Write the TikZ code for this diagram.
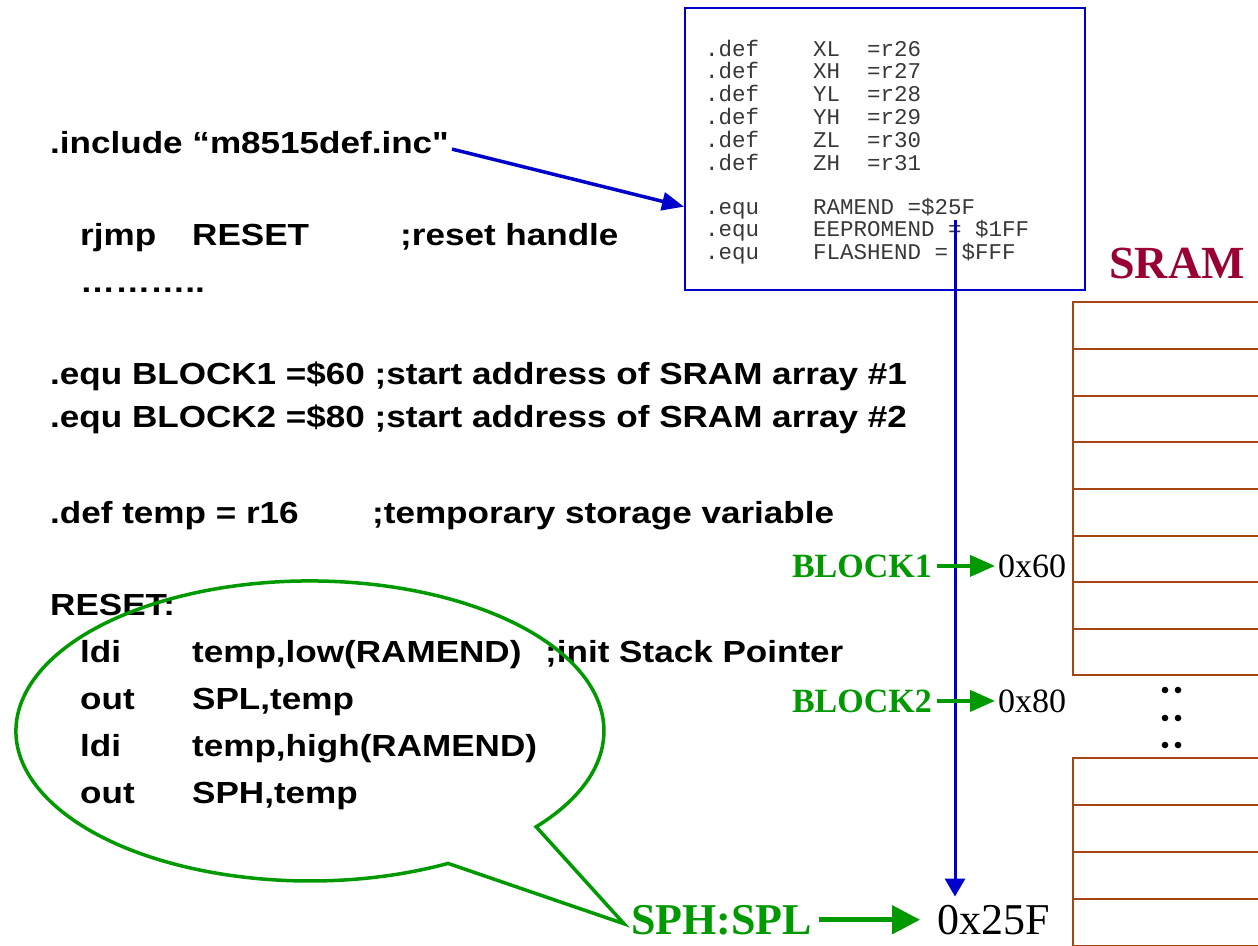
\documentclass[tikz,border=0pt]{standalone}
\usepackage{fontspec}
\usetikzlibrary{arrows.meta,calc}
\setmainfont{Liberation Serif}
\newfontfamily\arialb{Liberation Sans}[FakeStretch=1.15]
\newfontfamily\monof{Liberation Mono}
\definecolor{mygreen}{RGB}{0,153,0}
\definecolor{myblue}{RGB}{0,0,204}
\definecolor{mybrown}{RGB}{166,68,20}
\definecolor{sramred}{RGB}{153,0,51}
\begin{document}
\begin{tikzpicture}[x=1pt,y=-1pt,
  code/.style={anchor=base west,inner sep=0pt,font=\arialb\bfseries\fontsize{30.5}{36}\selectfont},
  inctext/.style={anchor=base west,inner sep=0pt,text=black!78,font=\monof\fontsize{22.5}{27}\selectfont},
  glabel/.style={inner sep=0pt,text=mygreen,font=\bfseries\fontsize{34}{40}\selectfont},
  addr/.style={inner sep=0pt,font=\fontsize{34}{40}\selectfont},
  biglabel/.style={inner sep=0pt,text=mygreen,font=\bfseries\fontsize{44}{50}\selectfont},
  bigaddr/.style={inner sep=0pt,font=\fontsize{44}{50}\selectfont},
  garrow/.style={draw=mygreen,line width=4pt,-{Triangle[length=25pt,width=21pt]}},
  gbigarrow/.style={draw=mygreen,line width=5pt,-{Triangle[length=28pt,width=28pt]}},
  barrow/.style={draw=myblue,line width=3.5pt,-{Triangle[length=22pt,width=18pt]}},
  vline/.style={draw=myblue,line width=3pt,-{Triangle[length=18pt,width=20pt]}},
  cell/.style={draw=mybrown,line width=2.5pt},
  callout/.style={draw=mygreen,line width=3.5pt,line join=miter}
]
\fill[white] (0,0) rectangle (1258,945);
\useasboundingbox (0,0) rectangle (1258,945);

% left code
\node[code] (inc) at (50,153) {.include “m8515def.inc"};
\node[code] (rja) at (80,245) {rjmp};
\node[code] (rjb) at (192,245) {RESET};
\node[code] (rjc) at (400,245) {;reset handle};
\node[code] (dots) at (80,292) {………..};
\node[code] (eqa) at (50,384) {.equ BLOCK1 =\$60 ;start address of SRAM array \#1};
\node[code] (eqb) at (50,427) {.equ BLOCK2 =\$80 ;start address of SRAM array \#2};
\node[code] (dfa) at (50,523) {.def temp = r16};
\node[code] (dfb) at (372,523) {;temporary storage variable};
\node[code] (rst) at (50,615) {RESET:};
\node[code] (l1a) at (80,662) {ldi};
\node[code] (l1b) at (192,662) {temp,low(RAMEND)};
\node[code] (l1c) at (545,662) {;init Stack Pointer};
\node[code] (l2a) at (80,709) {out};
\node[code] (l2b) at (192,709) {SPL,temp};
\node[code] (l3a) at (80,756) {ldi};
\node[code] (l3b) at (192,756) {temp,high(RAMEND)};
\node[code] (l4a) at (80,803) {out};
\node[code] (l4b) at (192,803) {SPH,temp};

% include-file box
\node[draw=myblue,line width=2pt,minimum width=400pt,minimum height=282pt,inner sep=0pt] (box) at (885,149) {};
\foreach \n/\r [count=\i from 0] in {XL/26,XH/27,YL/28,YH/29,ZL/30,ZH/31} {
  \node[inctext] (dk\i) at (705,{56+22.8*\i}) {.def};
  \node[inctext] (dn\i) at (813,{56+22.8*\i}) {\n};
  \node[inctext] (dv\i) at (867,{56+22.8*\i}) {=r\r};
}
\node[inctext] (eka) at (705,214) {.equ};
\node[inctext] (eva) at (813,214) {RAMEND =\$25F};
\node[inctext] (ekb) at (705,236.8) {.equ};
\node[inctext] (evb) at (813,236.8) {EEPROMEND = \$1FF};
\node[inctext] (ekc) at (705,259.6) {.equ};
\node[inctext] (evc) at (813,259.6) {FLASHEND = \$FFF};

% SRAM
\node[inner sep=0pt,anchor=base,text=sramred,font=\bfseries\fontsize{46}{52}\selectfont] (sram) at (1177,278) {SRAM};
\draw[cell] (1073,302) rectangle (1272,675);
\foreach \y in {349,396,442,489,536,582,629} \draw[cell] (1073,\y) -- (1272,\y);
\draw[cell] (1073,758) rectangle (1272,946);
\foreach \y in {805,852,899} \draw[cell] (1073,\y) -- (1272,\y);
\foreach \y in {690,718,745} {
  \fill (1165,\y) circle[radius=3.3];
  \fill (1178,\y) circle[radius=3.3];
}

% labels and addresses
\node[glabel,anchor=base east] (bka) at (932,577) {BLOCK1};
\node[addr,anchor=base west] (ada) at (998,577) {0x60};
\node[glabel,anchor=base east] (bkb) at (932,712) {BLOCK2};
\node[addr,anchor=base west] (adb) at (998,712) {0x80};
\node[biglabel,anchor=base west] (sph) at (631,934) {SPH:SPL};
\node[bigaddr,anchor=base west] (top) at (937,934) {0x25F};

% connectors
\draw[barrow] ($(inc.east)+(3,7)$) -- (box.west |- eva);
\coordinate (vtop) at (955,220);
\draw[vline] (vtop) -- ($(vtop |- top.north)+(0,-8)$);
\draw[garrow,shorten <=5pt,shorten >=3pt] (bka.east) -- (bka.east -| ada.west);
\draw[garrow,shorten <=5pt,shorten >=3pt] (bkb.east) -- (bkb.east -| adb.west);
\draw[gbigarrow,shorten <=7pt,shorten >=17pt] (sph.east) -- (sph.east -| top.west);

% callout
\coordinate (tip) at ($(sph.west)+(-7,4)$);
\draw[callout] (448,863.4) arc[start angle=62,end angle=399.7,x radius=294,y radius=150] -- (tip) -- cycle;
\end{tikzpicture}
\end{document}
